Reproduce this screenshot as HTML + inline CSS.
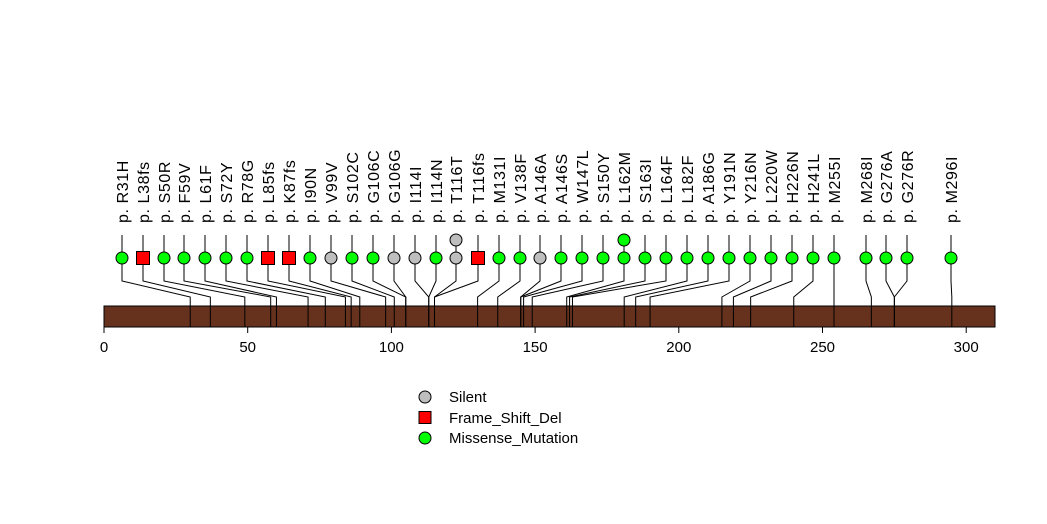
<!DOCTYPE html>
<html><head><meta charset="utf-8"><style>
html,body{margin:0;padding:0;background:#fff;}
svg{display:block;font-family:"Liberation Sans",sans-serif;}
</style></head><body>
<svg id="chart" width="1047" height="524" viewBox="0 0 1047 524" xmlns="http://www.w3.org/2000/svg">
<rect x="104" y="306" width="891" height="21" fill="#66321E" stroke="#000" stroke-width="1"/>
<g id="marks"></g>
<g id="axis"></g>
<g font-size="15">
<g><circle cx="425" cy="397" r="6" fill="#BEBEBE" stroke="#000"/><text x="449" y="402">Silent</text></g>
<g><rect x="419" y="411.5" width="12" height="12" fill="#FF0000" stroke="#000"/><text x="449" y="423">Frame_Shift_Del</text></g>
<g><circle cx="425" cy="438" r="6" fill="#00FF00" stroke="#000"/><text x="449" y="443">Missense_Mutation</text></g>
</g>
</svg>
<script>
const labels=["R31H","L38fs","S50R","F59V","L61F","S72Y","R78G","L85fs","K87fs","I90N","V99V","S102C","G106C","G106G","I114I","I114N","T116T","T116fs","M131I","V138F","A146A","A146S","W147L","S150Y","L162M","S163I","L164F","L182F","A186G","Y191N","Y216N","L220W","H226N","H241L","M255I","M268I","G276A","G276R","M296I"];
const types=["m","f","m","m","m","m","m","f","f","m","s","m","m","s","s","m","s","f","m","m","s","m","m","m","m","m","m","m","m","m","m","m","m","m","m","m","m","m","m"];
const counts=[1,1,1,1,1,1,1,1,1,1,1,1,1,1,1,1,2,1,1,1,1,1,1,1,2,1,1,1,1,1,1,1,1,1,1,1,1,1,1];
const labelX=[122,143,164,184,205,226,247,268,289,310,331,352,373,394,415,436,456,478,499,520,540,561,582,603,624,645,666,687,708,729,750,771,792,813,834,866,886,907,951];
const ticks=[0,50,100,150,200,250,300];
const xs=p=>104+p*2.874;
const NS="http://www.w3.org/2000/svg";
const marks=document.getElementById('marks');
const colors={m:"#00FF00",f:"#FF0000",s:"#BEBEBE"};
function mk(tag,attrs,parent){const e=document.createElementNS(NS,tag);for(const k in attrs)e.setAttribute(k,attrs[k]);parent.appendChild(e);return e;}
labels.forEach((lab,i)=>{
  const pos=parseInt(lab.match(/\d+/)[0])-1;
  const px=xs(pos), lx=labelX[i];
  const g=mk('g',{},marks);
  
  
  mk('polyline',{points:`${lx},235 ${lx},281 ${px},297 ${px},327`,fill:"none",stroke:"#000","stroke-width":1},g);
  for(let c=0;c<counts[i];c++){
    const cy=258-c*18;
    if(types[i]==='f') mk('rect',{x:lx-6.5,y:cy-6.5,width:13,height:13,fill:colors.f,stroke:"#000"},g);
    else mk('circle',{cx:lx,cy:cy,r:6,fill:colors[types[i]],stroke:"#000"},g);
  }
  const t=mk('text',{x:0,y:0,transform:`translate(${lx+6},223) rotate(-90)`,"font-size":"16","letter-spacing":"0.6"},g);
  t.textContent="p. "+lab;
});
const ax=document.getElementById('axis');
mk('line',{x1:xs(0),y1:327,x2:xs(300),y2:327,stroke:"#000"},ax);
ticks.forEach(v=>{
  const tk=mk('line',{x1:xs(v),y1:327,x2:xs(v),y2:333,stroke:"#000"},ax);
  
  
  const t=mk('text',{x:xs(v),y:352,"text-anchor":"middle","font-size":"15"},ax);
  
  
  t.textContent=v;
});
</script>
</body></html>
